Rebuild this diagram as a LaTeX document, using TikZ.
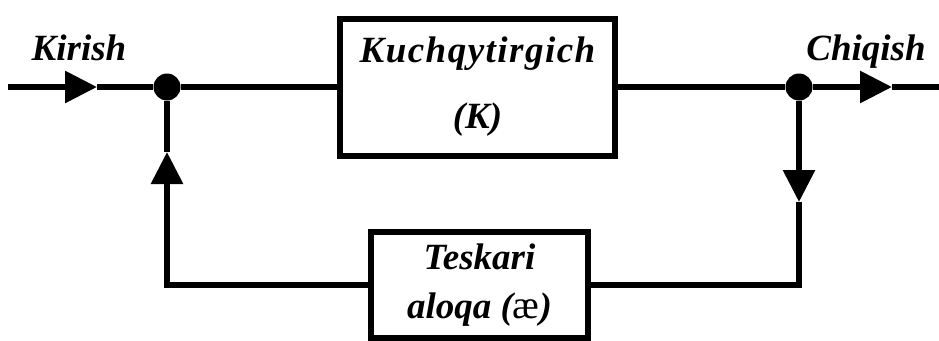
\documentclass[tikz,border=0pt]{standalone}
\usepackage{fontspec}
\setmainfont{Liberation Serif}
\usetikzlibrary{arrows.meta}
\tikzset{wire/.style={line width=6pt},
	tipwire/.style={wire,-{Triangle[length=32pt,width=31pt]}},
	blok/.style={draw,line width=6pt,inner sep=0pt,align=center},
	tugun/.style={circle,fill,inner sep=0pt,minimum size=27pt},
	yozuv/.style={anchor=base,inner sep=0pt,font=\fontsize{37}{40}\selectfont\bfseries\itshape}}

\begin{document}
\begin{tikzpicture}[x=1pt,y=-1pt]
		\useasboundingbox (0,0) rectangle (939,340);
		\node[blok,minimum width=275pt,minimum height=137pt,font=\fontsize{37}{66}\selectfont\bfseries\itshape](kuch) at (477.5,87){{\addfontfeature{LetterSpace=4}Kuchqytirgich}\\(K)};
		\node[blok,minimum width=217pt,minimum height=106pt,font=\fontsize{37}{49}\selectfont\bfseries\itshape](tesk) at (479.5,285){Teskari\\aloqa ({\upshape\mdseries\fontsize{40}{49}\selectfont æ})};
		\node[tugun](chap) at (167,87){};\node[tugun](ong) at (799,87){};
		\node[yozuv](kir) at (79,60){Kirish};\node[yozuv](chiq) at (866,60){Chiqish};
		\coordinate (kirish) at (8,87);\coordinate (kiruch) at (97,87);
		\coordinate (chiquch) at (892,87);\coordinate (chiqish) at (940,87);
		\coordinate (pastuch) at (799,202);\coordinate (yuquch) at (167,152);
		% asosiy zanjir
		\draw[tipwire](kirish)--(kiruch);\draw[wire](kiruch)--(chap);
		\draw[wire](chap)--(kuch);\draw[wire](kuch)--(ong);
		\draw[tipwire](ong)--(chiquch);\draw[wire](chiquch)--(chiqish);
		% teskari aloqa
		\draw[tipwire](ong)--(pastuch);\draw[wire](pastuch)|-(tesk.east);
		\draw[tipwire](tesk.west)-|(yuquch);\draw[wire](yuquch)--(chap);
	\end{tikzpicture}
\end{document}
